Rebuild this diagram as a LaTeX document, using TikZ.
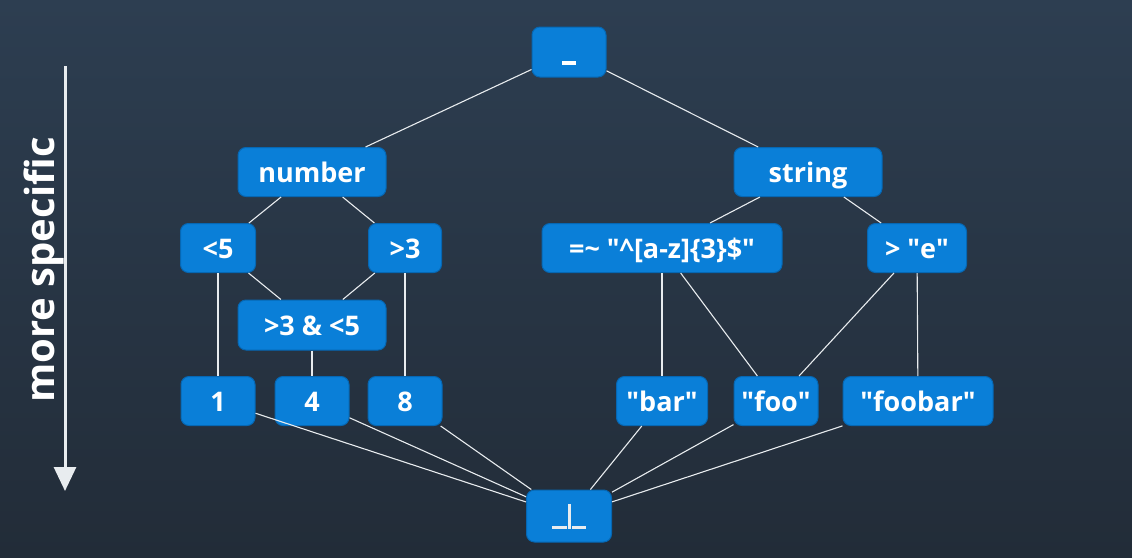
\documentclass[tikz,border=0pt]{standalone}
\usepackage{fontspec}
\setmainfont{Open Sans}
\usetikzlibrary{arrows.meta}
\definecolor{bgtop}{HTML}{2D3E51}
\definecolor{bgbot}{HTML}{222C38}
\definecolor{nodefill}{HTML}{0A7FD8}
\definecolor{nodeedge}{HTML}{0667B3}
\definecolor{linecol}{HTML}{E8ECEF}
\newcommand{\qq}{\textquotedbl}
\tikzset{
  box/.style={draw=nodeedge, line width=1pt, fill=nodefill, rounded corners=8pt,
    inner sep=0pt, minimum height=49pt, text height=20pt, text depth=0pt,
    text=white, font=\fontsize{27}{27}\selectfont\bfseries},
  link/.style={draw=linecol, line width=1.1pt},
}
\begin{document}
\begin{tikzpicture}[x=1pt,y=-1pt]
\shade[top color=bgtop, bottom color=bgbot] (0,0) rectangle (1132,557);
\useasboundingbox (0,0) rectangle (1132,557);
% arrow
\coordinate (ar1) at (65,66);
\coordinate (ar2) at (65,491);
\draw[linecol, line width=3pt, -{Triangle[width=22pt,length=24pt]}] (ar1) -- (ar2);
\node[rotate=90, text=white, font=\fontsize{40}{40}\selectfont\bfseries] (ms) at (44,270) {more specific};
% nodes
\node[box, minimum width=74pt, minimum height=50pt] (top) at (569,52) {\rule[-3pt]{14pt}{4pt}};
\node[box, minimum width=148pt] (number) at (312,172) {number};
\node[box, minimum width=148pt] (string) at (808,172) {string};
\node[box, minimum width=75pt] (lt5) at (218,248) {<5};
\node[box, minimum width=73pt] (gt3) at (405,248) {>3};
\node[box, minimum width=240pt] (regex) at (662,248) {=\textasciitilde{} \qq\textasciicircum[a-z]\{3\}\$\qq};
\node[box, minimum width=99pt] (gte) at (917,248) {> \qq e\qq};
\node[box, minimum width=148pt, minimum height=50pt] (both) at (312,325) {>3 \& <5};
\node[box, minimum width=74pt] (n1) at (218,401) {1};
\node[box, minimum width=74pt] (n4) at (312,401) {4};
\node[box, minimum width=74pt] (n8) at (405,401) {8};
\node[box, minimum width=91pt] (bar) at (662,401) {\qq bar\qq};
\node[box, minimum width=84pt] (foo) at (776,401) {\qq foo\qq};
\node[box, minimum width=150pt] (foobar) at (918,401) {\qq foobar\qq};
\node[box, minimum width=85pt, minimum height=52pt] (bot) at (569,516) {};
\fill[linecol] ([shift={(-17,10)}]bot.center) rectangle ([shift={(-2.5,13)}]bot.center);
\fill[linecol] ([shift={(-1.5,-12)}]bot.center) rectangle ([shift={(1.5,13)}]bot.center);
\fill[linecol] ([shift={(2.5,10)}]bot.center) rectangle ([shift={(17,13)}]bot.center);
% links
\draw[link] (top) -- (number);
\draw[link] (top) -- (string);
\draw[link] (number) -- (lt5);
\draw[link] (number) -- (gt3);
\draw[link] (lt5) -- (both);
\draw[link] (gt3) -- (both);
\draw[link] (lt5) -- (n1);
\draw[link] (both) -- (n4);
\draw[link] (gt3) -- (n8);
\draw[link] (string) -- (regex);
\draw[link] (string) -- (gte);
\draw[link] (regex) -- (bar);
\draw[link] (regex) -- (foo);
\draw[link] (gte) -- (foo);
\draw[link] (gte) -- (foobar);
\foreach \s in {n1,n4,n8,bar,foo,foobar} { \draw[link] (\s) -- (bot); }
\end{tikzpicture}
\end{document}
